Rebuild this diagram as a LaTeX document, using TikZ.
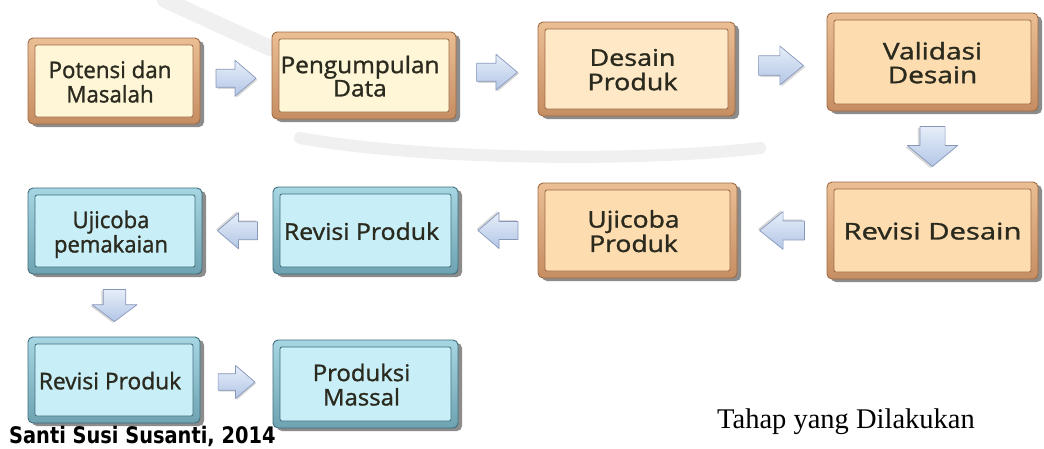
\documentclass[tikz,border=0pt]{standalone}
\usepackage{fontspec}
\usepackage{graphicx}
\usetikzlibrary{shadows,calc}
\newfontfamily\boxfont[FakeBold=1.2]{Open Sans}
\newfontfamily\notefont{DejaVu Sans}
\newfontfamily\capfont{Liberation Serif}

\definecolor{txt}{HTML}{2B2A1E}
\definecolor{oTop}{HTML}{EBBE94}
\definecolor{oBot}{HTML}{C68D62}
\definecolor{oEdge}{HTML}{9C6A45}
\definecolor{yIn}{HTML}{FFF6D8}
\definecolor{pIn}{HTML}{FDDCB0}
\definecolor{pIn2}{HTML}{FEE8C6}
\definecolor{bTop}{HTML}{A6D6E2}
\definecolor{bBot}{HTML}{6FA3B2}
\definecolor{bEdge}{HTML}{3E6E7C}
\definecolor{bIn}{HTML}{C8EEF7}
\definecolor{aTop}{HTML}{E6EEF9}
\definecolor{aBot}{HTML}{B3C6E6}
\definecolor{aEdge}{HTML}{8797BA}
\definecolor{sealgray}{HTML}{F0F0F0}

% stage text: one font size, stretched sideways per box, drawn a little low
\newcommand\stxt[2]{\raisebox{-4pt}[\height][\depth]{\scalebox{#1}[1]{\fontsize{23}{23}\selectfont\begin{tabular}{@{}c@{}}#2\end{tabular}}}}
% the same, nudged to the left of the box centre
\newcommand\stxtl[2]{\stxt{#1}{#2}\hspace*{8pt}}

\tikzset{
  stage/.style n args={4}{%
    draw=#3, line width=0.9pt, rounded corners=5pt,
    top color=#1, bottom color=#2,
    drop shadow={shadow xshift=4pt, shadow yshift=-3pt, opacity=.6, fill=black!75},
    path picture={
      \fill[#4, rounded corners=2pt]
        ([shift={(7pt,-7pt)}]path picture bounding box.north west) rectangle
        ([shift={(-7pt,7pt)}]path picture bounding box.south east);
      \draw[#3, line width=0.8pt, rounded corners=2pt]
        ([shift={(7pt,-7pt)}]path picture bounding box.north west) rectangle
        ([shift={(-7pt,7pt)}]path picture bounding box.south east);
    },
    inner sep=0pt, text=txt, font=\boxfont},
  ybox/.style={stage={oTop}{oBot}{oEdge}{yIn}},
  lbox/.style={stage={oTop}{oBot}{oEdge}{pIn2}},
  pbox/.style={stage={oTop}{oBot}{oEdge}{pIn}},
  bbox/.style={stage={bTop}{bBot}{bEdge}{bIn}},
  barrow/.pic={
    \fill[black!50, opacity=.3, shift={(1.5,1.5)}]
      (-20,-9) -- (-1,-9) -- (-1,-18) -- (20,0) -- (-1,18) -- (-1,9) -- (-20,9) -- cycle;
    \shade[top color=aTop, bottom color=aBot, draw=aEdge, line width=.7pt, line join=round]
      (-20,-9) -- (-1,-9) -- (-1,-18) -- (20,0) -- (-1,18) -- (-1,9) -- (-20,9) -- cycle;
  }
}

\begin{document}
\begin{tikzpicture}[x=1pt, y=-1pt]
\useasboundingbox (0,0) rectangle (1044,448);
\fill[white] (0,0) rectangle (1044,448);

% faint seal in the background
\draw[sealgray, line width=12pt, line cap=round] (300,138) .. controls (420,160) and (640,162) .. (760,148);
\draw[sealgray, line width=16pt, line cap=round] (165,0) -- (270,48);

% stages
\node[ybox, minimum width=172pt, minimum height=86pt] (b1) at (114,81)   {\stxtl{0.97}{Potensi dan\\Masalah}};
\node[ybox, minimum width=184pt, minimum height=87pt] (b2) at (364,75.5) {\stxtl{1.06}{Pengumpulan\\Data}};
\node[lbox, minimum width=197pt, minimum height=94pt] (b3) at (636.5,69) {\stxtl{1.17}{Desain\\Produk}};
\node[pbox, minimum width=211pt, minimum height=98pt] (b4) at (932.5,62) {\stxt{1.22}{Validasi\\Desain}};

\node[bbox, minimum width=174pt, minimum height=86pt] (c1) at (115,231)     {\stxtl{0.96}{Ujicoba\\pemakaian}};
\node[bbox, minimum width=185pt, minimum height=87pt] (c2) at (365.5,230.5) {\stxtl{1.08}{Revisi Produk}};
\node[pbox, minimum width=199pt, minimum height=95pt] (c3) at (637.5,230.5) {\stxtl{1.15}{Ujicoba\\Produk}};
\node[pbox, minimum width=211pt, minimum height=97pt] (c4) at (932.5,230.5) {\stxt{1.27}{Revisi Desain}};

\node[bbox, minimum width=172pt, minimum height=86pt] (d1) at (114,380)   {\stxtl{0.99}{Revisi Produk}};
\node[bbox, minimum width=185pt, minimum height=88pt] (d2) at (365.5,384) {\stxtl{1.04}{Produksi\\Massal}};

% block arrows between stages
\path ($(b1.east)!.5!(b2.west)$) pic {barrow};
\path ($(b2.east)!.5!(b3.west)$) pic[xscale=1.02] {barrow};
\path ($(b3.east)!.5!(b4.west)$) pic[xscale=1.12, yscale=1.08] {barrow};
\path ($(b4.south)!.5!(c4.north)$) pic[rotate=-90, yscale=1.4] {barrow};

\path ($(c4.west)!.5!(c3.east)$) pic[rotate=180, xscale=1.12, yscale=1.05] {barrow};
\path ($(c3.west)!.5!(c2.east)$) pic[rotate=180] {barrow};
\path ($(c2.west)!.5!(c1.east)$) pic[rotate=180] {barrow};
\path ($(c1.south)!.5!(d1.north)$) pic[rotate=-90, xscale=.8, yscale=1.25] {barrow};

\path ($(d1.east)!.5!(d2.west)$) pic[scale=.92] {barrow};

% captions
\node[anchor=base west, inner sep=0pt, text=black] (auth) at (9,443)
  {\scalebox{1.02}[1.2]{\notefont\bfseries\fontsize{19}{19}\selectfont Santi Susi Susanti, 2014}};
\node[anchor=base west, inner sep=0pt, text=black] (cap) at (717,428)
  {\capfont\fontsize{28.5}{30}\selectfont Tahap yang Dilakukan};
\end{tikzpicture}
\end{document}
